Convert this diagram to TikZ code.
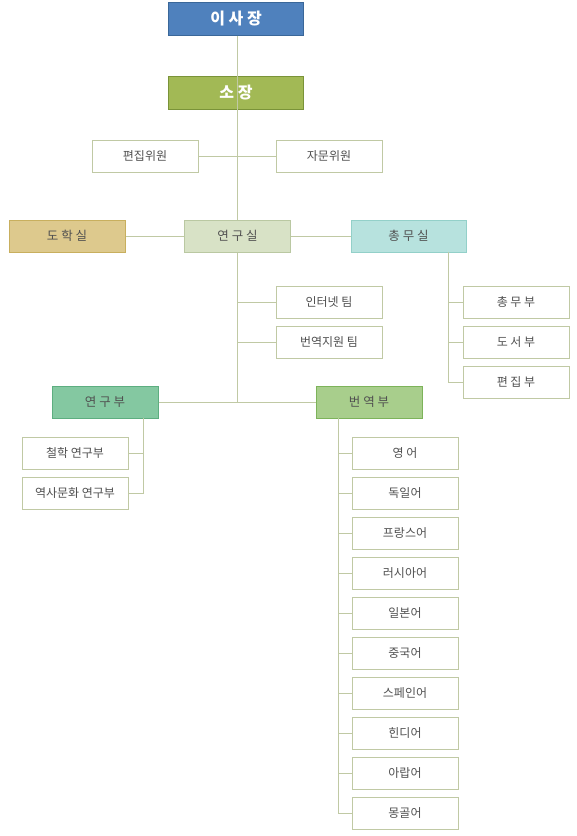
\documentclass[tikz,border=0pt]{standalone}
\usepackage{fontspec}
\setmainfont{Noto Sans CJK KR}
\usetikzlibrary{positioning}

\definecolor{boardblue}{HTML}{4F81BD}
\definecolor{boardedge}{HTML}{3A6799}
\definecolor{headgreen}{HTML}{A2B955}
\definecolor{headedge}{HTML}{7A9338}
\definecolor{sandfill}{HTML}{DDC98D}
\definecolor{sandedge}{HTML}{C8AF5E}
\definecolor{labfill}{HTML}{D8E2C6}
\definecolor{labedge}{HTML}{BAC8A2}
\definecolor{aquafill}{HTML}{B7E2DE}
\definecolor{aquaedge}{HTML}{93D0C9}
\definecolor{mintfill}{HTML}{84C8A1}
\definecolor{mintedge}{HTML}{5DAE80}
\definecolor{leaffill}{HTML}{A8CE8C}
\definecolor{leafedge}{HTML}{7DB35A}
\definecolor{wireclr}{HTML}{C0C9A4}
\definecolor{txtgray}{HTML}{505050}

\begin{document}
\begin{tikzpicture}[x=1pt, y=-1pt,
      box/.style={draw=wireclr, line width=1pt, fill=white, minimum width=106pt,
        minimum height=32pt, inner sep=0pt, text=txtgray, font=\fontsize{12}{14}\selectfont},
      topbox/.style={box, minimum width=135pt, minimum height=33pt, text=white,
        font=\fontsize{16}{18}\selectfont\bfseries},
      office/.style={box, font=\fontsize{12.5}{14}\selectfont},
      wire/.style={draw=wireclr, line width=1pt}
    ]
    \useasboundingbox (0,0) rectangle (577,836);

    % top of the chart
    \node[topbox, fill=boardblue, draw=boardedge] (chair) at (236,18.5) {이 사 장};
    \node[topbox, fill=headgreen, draw=headedge] (director) at (236,92.5) {소 장};
    \node[box] (editcom) at (145,156) {편집위원};
    \node[box] (advcom) at (329,156) {자문위원};

    % offices
    \node[office, fill=sandfill, draw=sandedge, minimum width=116pt] (dohak) at (67,236) {도 학 실};
    \node[office, fill=labfill, draw=labedge] (lab) at (237.5,236) {연 구 실};
    \node[office, fill=aquafill, draw=aquaedge, minimum width=115pt] (admin) at (408.5,236) {총 무 실};

    % teams under the lab
    \node[box] (netteam) at (329,302) {인터넷 팀};
    \node[box] (transteam) at (329,342) {번역지원 팀};

    % sections of the admin office
    \coordinate (adminbus) at (448,252);
    \foreach \sname/\slabel/\sy in {genaff/총 무 부/302,library/도 서 부/342,editdept/편 집 부/382}{%
      \node[box] (\sname) at (516,\sy) {\slabel};
    }

    % departments
    \node[office, fill=mintfill, draw=mintedge] (resdept) at (105,402) {연 구 부};
    \node[office, fill=leaffill, draw=leafedge] (transdept) at (369,402) {번 역 부};

    \coordinate (resbus) at (143,418);
    \node[box] (philo) at (75,453) {철학 연구부};
    \node[box] (history) at (75,493) {역사문화 연구부};

    \coordinate (transbus) at (338,418);
    \foreach \lname [count=\i] in {영 어,독일어,프랑스어,러시아어,일본어,중국어,스페인어,힌디어,아랍어,몽골어}{%
      \node[box] (lang\i) at (405,{453+40*(\i-1)}) {\lname};
    }

    % connectors
    \draw[wire] (chair.south -| lab.north) -- (lab.north);
    \draw[wire] (editcom) -- (advcom);
    \draw[wire] (dohak) -- (lab);
    \draw[wire] (lab) -- (admin);
    \draw[wire] (lab.south) -- (lab.south |- resdept.east);
    \draw[wire] (resdept) -- (transdept);
    \draw[wire] (netteam.west) -- (netteam.west -| lab.south);
    \draw[wire] (transteam.west) -- (transteam.west -| lab.south);
    \foreach \n in {genaff,library,editdept}
      \draw[wire] (adminbus) |- (\n.west);
    \foreach \n in {philo,history}
      \draw[wire] (resbus) |- (\n.east);
    \foreach \i in {1,...,10}
      \draw[wire] (transbus) |- (lang\i.west);
  \end{tikzpicture}
\end{document}
